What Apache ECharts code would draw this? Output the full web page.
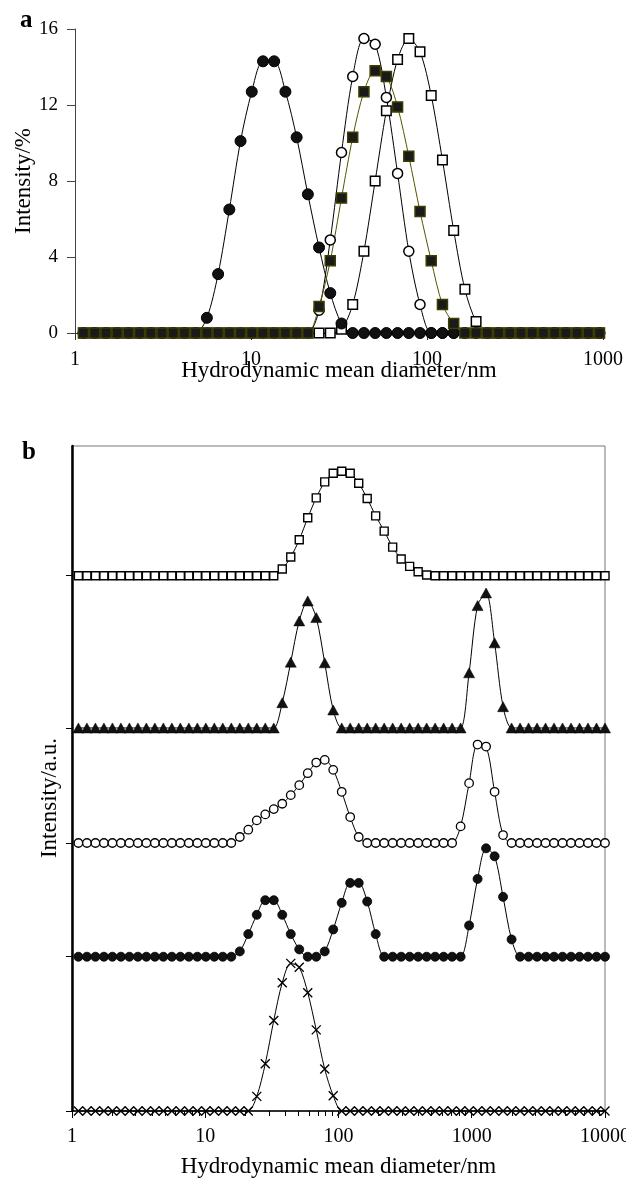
<!DOCTYPE html>
<html><head><meta charset="utf-8">
<script src="https://cdn.jsdelivr.net/npm/echarts@6/dist/echarts.min.js"></script>
<style>html,body{margin:0;padding:0;background:#fff}#c{width:626px;height:1178px}</style>
</head><body><div id="c"></div>
<script>
// ---------- Panel a data (Intensity/% vs diameter/nm) ----------
const sizesA = [1.117,1.294,1.499,1.736,2.010,2.328,2.696,3.122,3.615,4.187,4.849,5.615,6.503,7.531,8.721,10.10,11.70,13.54,15.69,18.17,21.04,24.36,28.21,32.67,37.84,43.82,50.75,58.77,68.06,78.82,91.28,105.7,122.4,141.8,164.2,190.1,220.2,255.0,295.3,342.0,396.1,458.7,531.2,615.1,712.4,825.0,955.4];
const aOpenSquares   = [0,0,0,0,0,0,0,0,0,0, 0,0,0,0,0,0,0,0,0,0, 0,0,0, 0.2,1.5,4.3,8.0,11.7,14.4,15.5,14.8,12.5,9.1,5.4,2.3,0.6, 0,0,0,0,0,0,0,0,0,0, 0];
const aOpenCircles   = [0,0,0,0,0,0,0,0,0,0, 0,0,0,0,0,0,0,0,0,0, 0, 1.2,4.9,9.5,13.5,15.5,15.2,12.4,8.4,4.3,1.5, 0,0,0,0,0,0,0,0,0,0, 0,0,0,0,0,0];
const aFilledCircles = [0,0,0,0,0,0,0,0,0,0, 0, 0.8,3.1,6.5,10.1,12.7,14.3,14.3,12.7,10.3,7.3,4.5,2.1,0.5, 0,0,0,0,0,0,0,0,0,0, 0,0,0,0,0,0,0,0,0,0, 0,0,0];
const aFilledSquares = [0,0,0,0,0,0,0,0,0,0, 0,0,0,0,0,0,0,0,0,0, 0, 1.4,3.8,7.1,10.3,12.7,13.8,13.5,11.9,9.3,6.4,3.8,1.5,0.5, 0,0,0,0,0,0,0,0,0,0, 0,0,0];
const yTicksA = [0,4,8,12,16];

// ---------- Panel b data (Intensity/a.u., stacked traces) ----------
const sizesB = [1.117,1.294,1.499,1.736,2.010,2.328,2.696,3.122,3.615,4.187,4.849,5.615,6.503,7.531,8.721,10.10,11.70,13.54,15.69,18.17,21.04,24.36,28.21,32.67,37.84,43.82,50.75,58.77,68.06,78.82,91.28,105.7,122.4,141.8,164.2,190.1,220.2,255.0,295.3,342.0,396.1,458.7,531.2,615.1,712.4,825.0,955.4,1106,1281,1484,1718,1990,2305,2669,3091,3580,4145,4801,5560,6439,7456,8635,10000];
const bOpenSquares   = [0,0,0,0,0,0,0,0,0,0, 0,0,0,0,0,0,0,0,0,0, 0,0,0,0, 1.0,2.8,5.4,8.7,11.7,14.1,15.4,15.7,15.4,13.9,11.6,9.0,6.7,4.3,2.5,1.4,0.6,0.1, 0,0,0,0,0,0,0,0,0,0, 0,0,0,0,0,0,0,0,0,0, 0];
const bTriangles     = [0,0,0,0,0,0,0,0,0,0, 0,0,0,0,0,0,0,0,0,0, 0,0,0,0, 3.8,9.9,16.1,19.1,16.6,9.8,2.7, 0,0,0,0,0,0,0,0,0,0, 0,0,0,0,0, 8.3,18.4,20.3,12.8,3.2, 0,0,0,0,0,0,0,0,0,0, 0,0];
const bOpenCircles   = [0,0,0,0,0,0,0,0,0,0, 0,0,0,0,0,0,0,0,0, 0.9,2.0,3.4,4.3,5.1,5.9,7.2,8.7,10.5,12.1,12.5,11.0,7.7,3.9,0.9, 0,0,0,0,0,0,0,0,0,0, 0, 2.5,9.0,14.8,14.5,7.7,1.2, 0,0,0,0,0,0,0,0,0,0, 0,0];
const bFilledCircles = [0,0,0,0,0,0,0,0,0,0, 0,0,0,0,0,0,0,0,0, 0.8,3.4,6.3,8.5,8.5,6.3,3.4,1.1,0,0,0.8,4.1,8.1,11.1,11.1,8.3,3.4, 0,0,0,0,0,0,0,0,0,0, 4.7,11.7,16.3,15.1,9.0,2.6, 0,0,0,0,0,0,0,0,0,0, 0];
const bCrosses       = [0,0,0,0,0,0,0,0,0,0, 0,0,0,0,0,0,0,0,0,0, 0, 2.2,7.1,13.6,19.3,22.2,21.6,17.8,12.2,6.3,2.3, 0,0,0,0,0,0,0,0,0,0, 0,0,0,0,0,0,0,0,0,0, 0,0,0,0,0,0,0,0,0,0, 0,0];
// vertical offsets (baselines) of the stacked traces, also used as y tick positions
const bBaseOpenSquares = 80.5;
const bBaseTriangles = 57.6;
const bBaseOpenCircles = 40.3;
const bBaseFilledCircles = 23.2;
const bBaseCrosses = 0;
const yTicksB = [bBaseCrosses, bBaseFilledCircles, bBaseOpenCircles, bBaseTriangles, bBaseOpenSquares];
const xMinorTicksB = [2,3,4,5,6,7,8,9,20,30,40,50,60,70,80,90,200,300,400,500,600,700,800,900,2000,3000,4000,5000,6000,7000,8000,9000];

[aOpenSquares,aOpenCircles,aFilledCircles,aFilledSquares].forEach((a,i)=>{ if(a.length!==sizesA.length) console.error('A len',i,a.length); });
[bOpenSquares,bTriangles,bOpenCircles,bFilledCircles,bCrosses].forEach((a,i)=>{ if(a.length!==sizesB.length) console.error('B len',i,a.length); });

const FONT = 'Liberation Serif';
const pairs = (xs, ys, off) => xs.map((x, i) => [x, ys[i] + (off || 0)]);
const fmt = v => String(Math.round(v));

const lineBase = {
  type: 'line', smooth: 0.3, showAllSymbol: true, clip: false, animation: false,
  emphasis: { disabled: true }, silent: true,
  lineStyle: { color: '#000', width: 1 }
};
const crossPath = 'path://M0,0L10,10M10,0L0,10';

const chart = echarts.init(document.getElementById('c'), null, { renderer: 'canvas' });
chart.setOption({
  backgroundColor: '#fff',
  animation: false,
  grid: [
    { left: 75, right: 23, top: 29, height: 304, containLabel: false, outerBoundsMode: 'none' },
    { left: 72, right: 21, top: 446, height: 665, containLabel: false, outerBoundsMode: 'none',
      show: true, borderColor: '#777', borderWidth: 1, backgroundColor: 'transparent' }
  ],
  xAxis: [
    { type: 'log', logBase: 10, min: 1, max: 1000, gridIndex: 0,
      name: 'Hydrodynamic mean diameter/nm', nameLocation: 'middle', nameGap: 26, nameMoveOverlap: false,
      nameTextStyle: { fontFamily: FONT, fontSize: 23, color: '#000' },
      axisLine: { lineStyle: { color: '#333', width: 1 } },
      axisTick: { show: true, inside: false, length: 7, lineStyle: { color: '#333' } },
      axisLabel: { formatter: fmt, margin: 17, fontFamily: FONT, fontSize: 20, color: '#000' },
      splitLine: { show: false }, minorTick: { show: false } },
    { type: 'log', logBase: 10, min: 1, max: 10000, gridIndex: 1, position: 'bottom',
      name: 'Hydrodynamic mean diameter/nm', nameLocation: 'middle', nameGap: 44, nameMoveOverlap: false,
      nameTextStyle: { fontFamily: FONT, fontSize: 23, color: '#000' },
      axisLine: { lineStyle: { color: '#000', width: 1.5 } },
      axisTick: { show: true, inside: false, length: 7, lineStyle: { color: '#000', width: 1 } },
      axisLabel: { formatter: fmt, margin: 16, fontFamily: FONT, fontSize: 20, color: '#000' },
      splitLine: { show: false } },
    { type: 'log', logBase: 10, min: 1, max: 10000, gridIndex: 1, position: 'bottom',
      axisLine: { show: false },
      axisTick: { show: true, inside: false, length: 5, customValues: xMinorTicksB, lineStyle: { color: '#000', width: 1 } },
      axisLabel: { show: false },
      splitLine: { show: false } }
  ],
  yAxis: [
    { type: 'value', min: 0, max: 16, interval: 4, gridIndex: 0,
      name: 'Intensity/%', nameLocation: 'middle', nameGap: 40, nameMoveOverlap: false,
      nameTextStyle: { fontFamily: FONT, fontSize: 23, color: '#000' },
      axisLine: { show: true, lineStyle: { color: '#444', width: 1 } },
      axisTick: { show: true, inside: false, length: 8, lineStyle: { color: '#444' } },
      axisLabel: { margin: 17, fontFamily: FONT, fontSize: 19, color: '#000', customValues: yTicksA },
      splitLine: { show: false } },
    { type: 'value', min: 0, max: 100, gridIndex: 1,
      axisLine: { show: true, lineStyle: { color: '#000', width: 2.5 } },
      axisTick: { show: true, inside: false, length: 6, customValues: yTicksB, lineStyle: { color: '#000', width: 1 } },
      axisLabel: { show: false },
      splitLine: { show: false } }
  ],
  graphic: [
    { type: 'text', left: 20, top: 8, style: { text: 'a', font: 'bold 25px "Liberation Serif"', fill: '#000' } },
    { type: 'text', left: 22, top: 440, style: { text: 'b', font: 'bold 25px "Liberation Serif"', fill: '#000' } },
    { type: 'text', x: 50, y: 798, rotation: Math.PI / 2,
      style: { text: 'Intensity/a.u.', font: '23px "Liberation Serif"', fill: '#000', align: 'center', verticalAlign: 'middle' } }
  ],
  series: [
    // panel a
    Object.assign({}, lineBase, { xAxisIndex: 0, yAxisIndex: 0, data: pairs(sizesA, aOpenSquares),
      symbol: 'rect', symbolSize: 9.5, itemStyle: { color: '#fff', borderColor: '#000', borderWidth: 1.5 } }),
    Object.assign({}, lineBase, { xAxisIndex: 0, yAxisIndex: 0, data: pairs(sizesA, aOpenCircles),
      symbol: 'circle', symbolSize: 10, itemStyle: { color: '#fff', borderColor: '#000', borderWidth: 1.5 } }),
    Object.assign({}, lineBase, { xAxisIndex: 0, yAxisIndex: 0, data: pairs(sizesA, aFilledCircles),
      symbol: 'circle', symbolSize: 11, itemStyle: { color: '#111', borderColor: '#000', borderWidth: 1 } }),
    Object.assign({}, lineBase, { xAxisIndex: 0, yAxisIndex: 0, data: pairs(sizesA, aFilledSquares),
      symbol: 'rect', symbolSize: 10, lineStyle: { color: '#555500', width: 1 },
      itemStyle: { color: '#1a1a1a', borderColor: '#3d3d00', borderWidth: 1.5 } }),
    // panel b
    Object.assign({}, lineBase, { xAxisIndex: 1, yAxisIndex: 1, data: pairs(sizesB, bOpenSquares, bBaseOpenSquares),
      symbol: 'rect', symbolSize: 8, itemStyle: { color: '#fff', borderColor: '#000', borderWidth: 1.4 } }),
    Object.assign({}, lineBase, { xAxisIndex: 1, yAxisIndex: 1, data: pairs(sizesB, bTriangles, bBaseTriangles),
      symbol: 'triangle', symbolSize: [11, 10], itemStyle: { color: '#111', borderColor: '#000', borderWidth: 0.5 } }),
    Object.assign({}, lineBase, { xAxisIndex: 1, yAxisIndex: 1, data: pairs(sizesB, bOpenCircles, bBaseOpenCircles),
      symbol: 'circle', symbolSize: 8.5, itemStyle: { color: '#fff', borderColor: '#000', borderWidth: 1.3 } }),
    Object.assign({}, lineBase, { xAxisIndex: 1, yAxisIndex: 1, data: pairs(sizesB, bFilledCircles, bBaseFilledCircles),
      symbol: 'circle', symbolSize: 9, itemStyle: { color: '#111', borderColor: '#000', borderWidth: 0.8 } }),
    Object.assign({}, lineBase, { xAxisIndex: 1, yAxisIndex: 1, data: pairs(sizesB, bCrosses, bBaseCrosses),
      symbol: crossPath, symbolSize: 9, itemStyle: { color: 'transparent', borderColor: '#000', borderWidth: 1.4 } })
  ]
});
</script>
</body></html>
